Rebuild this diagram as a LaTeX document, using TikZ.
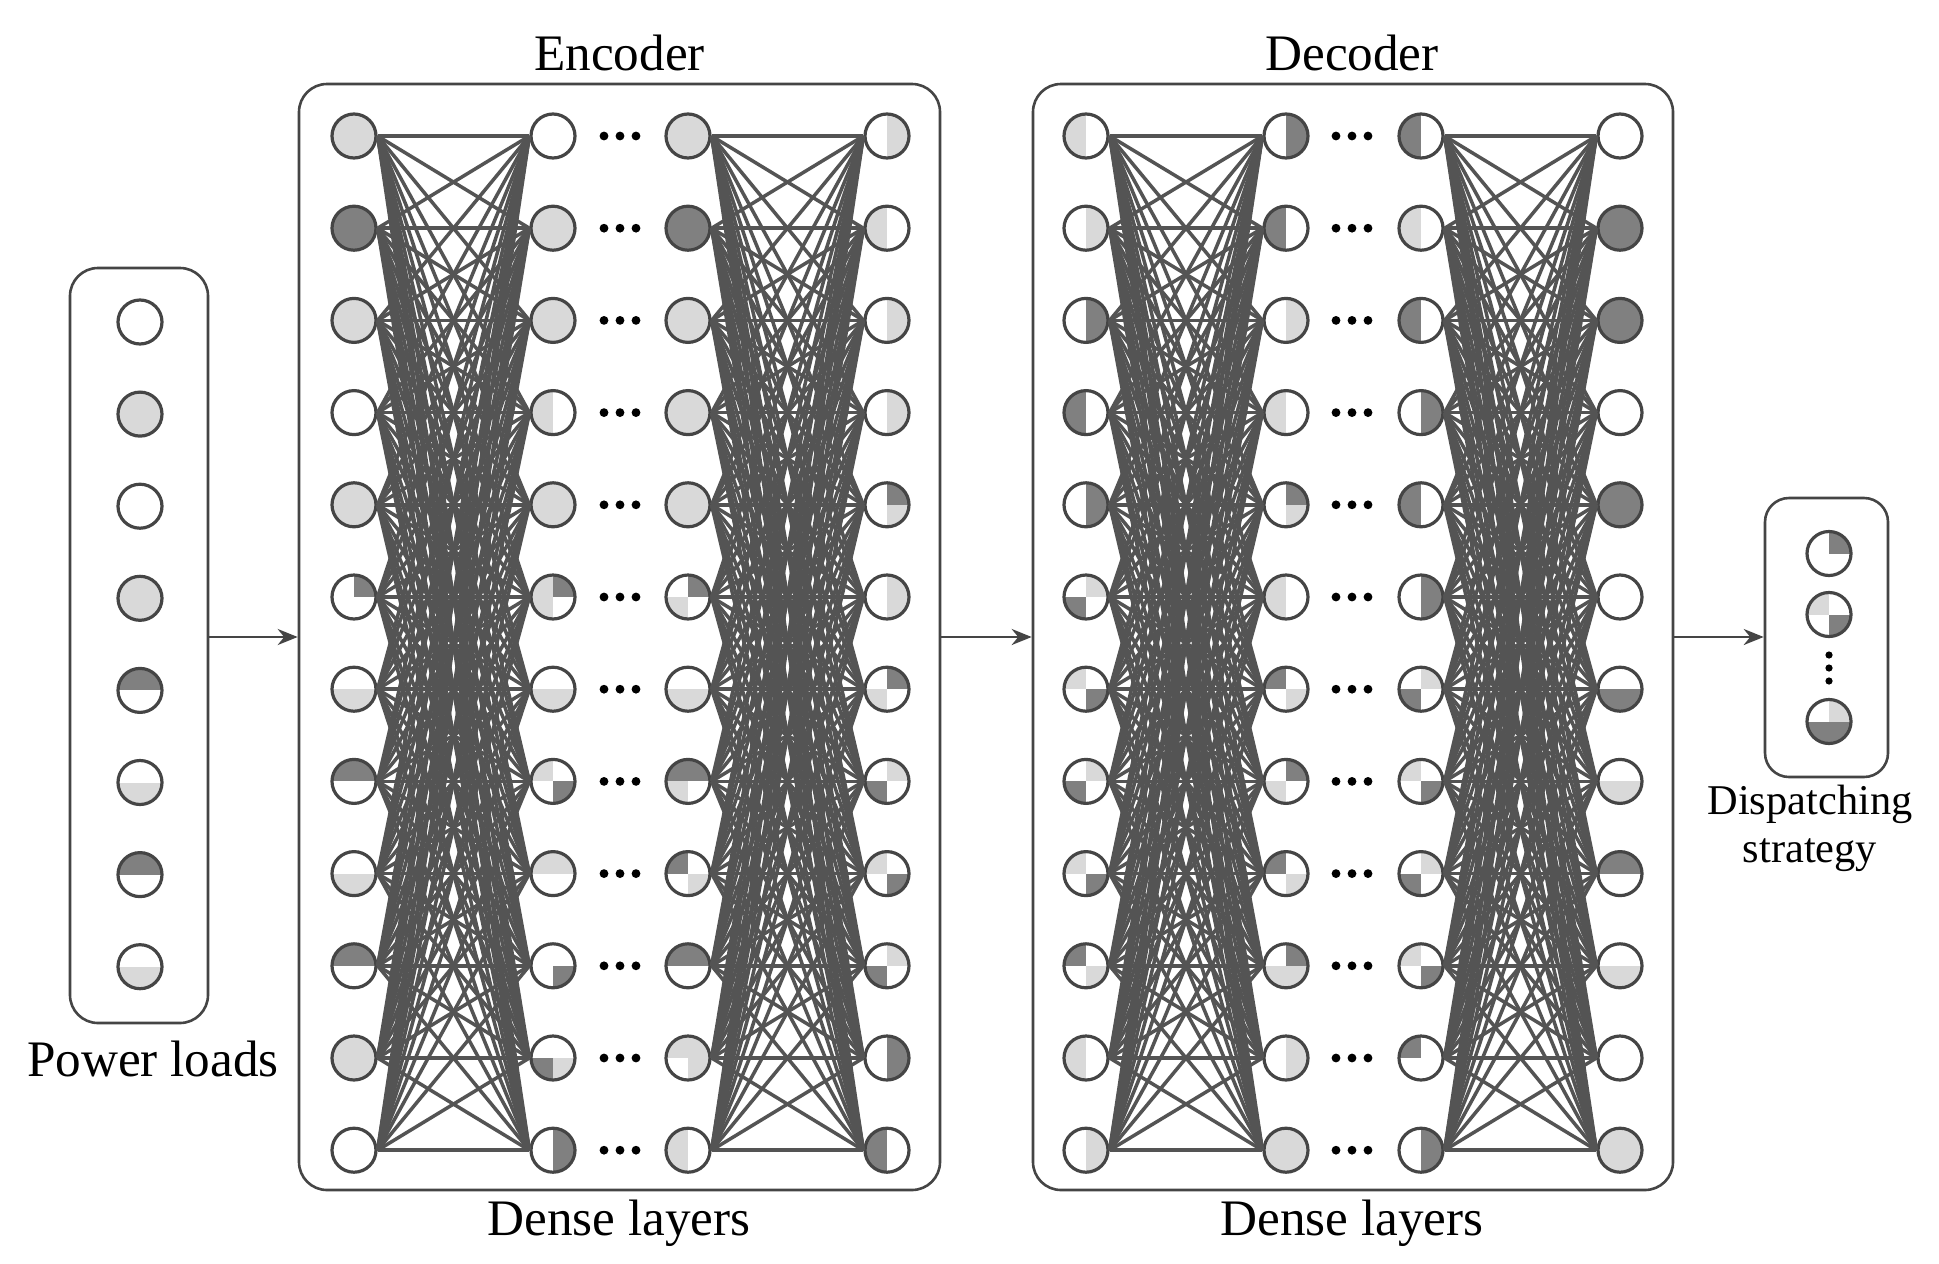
\documentclass[tikz,border=0pt]{standalone}
\usepackage{fontspec}
\setmainfont{Liberation Serif}
\usetikzlibrary{arrows.meta}

\definecolor{ringc}{gray}{0.27}
\definecolor{wirec}{gray}{0.33}
\colorlet{qw}{white}
\definecolor{ql}{gray}{0.85}
\definecolor{qd}{gray}{0.5}

\tikzset{
  every picture/.append style={x=0.5pt, y=-0.5pt},
  neuron/.style n args={4}{circle, draw=ringc, line width=1.6pt, minimum size=22pt, inner sep=0pt,
    path picture={
      \fill[fill=q#1] (path picture bounding box.center) rectangle (path picture bounding box.north west);
      \fill[fill=q#2] (path picture bounding box.center) rectangle (path picture bounding box.north east);
      \fill[fill=q#3] (path picture bounding box.center) rectangle (path picture bounding box.south west);
      \fill[fill=q#4] (path picture bounding box.center) rectangle (path picture bounding box.south east);
    }},
  wire/.style={draw=wirec, line width=1.75pt},
  box/.style={draw=ringc, line width=1.3pt, rounded corners=14pt, inner sep=0pt},
  flow/.style={draw=ringc, line width=1.3pt, -{Stealth[length=10pt,width=8pt]}},
  lbl/.style={font=\rmfamily\fontsize{25.6pt}{30pt}\selectfont, inner sep=0pt},
  lblsmall/.style={font=\rmfamily\fontsize{21.2pt}{24pt}\selectfont, inner sep=0pt, align=center},
}

\begin{document}
\begin{tikzpicture}
  \useasboundingbox (0,0) rectangle (1939,1264);

  % frames
  \node[box, minimum width=69pt, minimum height=377.5pt] (pw) at (139,645.5) {};
  \node[box, minimum width=320.5pt, minimum height=553pt] (enc) at (619.5,637) {};
  \node[box, minimum width=320pt, minimum height=553pt] (dec) at (1353,637) {};
  \node[box, rounded corners=12pt, minimum width=61.5pt, minimum height=139.5pt] (out) at (1826.5,637.5) {};

  % power loads
  \foreach \r/\a/\b/\c/\d in {1/w/w/w/w, 2/l/l/l/l, 3/w/w/w/w, 4/l/l/l/l,
                              5/d/d/w/w, 6/w/w/l/l, 7/d/d/w/w, 8/w/w/l/l}
    \node[neuron={\a}{\b}{\c}{\d}] (in-\r) at (140,{322+(\r-1)*92.1}) {};

  % encoder
  \foreach \r/\a/\b/\c/\d in {1/l/l/l/l, 2/d/d/d/d, 3/l/l/l/l, 4/w/w/w/w, 5/l/l/l/l, 6/w/d/w/w,
                              7/w/w/l/l, 8/d/d/w/w, 9/w/w/l/l, 10/d/d/w/w, 11/l/l/l/l, 12/w/w/w/w}
    \node[neuron={\a}{\b}{\c}{\d}] (e1-\r) at (354,{136+(\r-1)*92.2}) {};
  \foreach \r/\a/\b/\c/\d in {1/w/w/w/w, 2/l/l/l/l, 3/l/l/l/l, 4/l/w/l/w, 5/l/l/l/l, 6/l/d/l/w,
                              7/w/w/l/l, 8/l/w/w/d, 9/l/l/w/w, 10/w/w/w/d, 11/w/w/d/l, 12/w/d/w/d}
    \node[neuron={\a}{\b}{\c}{\d}] (e2-\r) at (553,{136+(\r-1)*92.2}) {};
  \foreach \r/\a/\b/\c/\d in {1/l/l/l/l, 2/d/d/d/d, 3/l/l/l/l, 4/l/l/l/l, 5/l/l/l/l, 6/w/d/l/w,
                              7/w/w/l/l, 8/d/d/l/w, 9/d/w/w/l, 10/d/d/w/w, 11/l/l/w/l, 12/l/w/l/w}
    \node[neuron={\a}{\b}{\c}{\d}] (e3-\r) at (688,{136+(\r-1)*92.2}) {};
  \foreach \r/\a/\b/\c/\d in {1/w/l/w/l, 2/l/w/l/w, 3/w/l/w/l, 4/w/l/w/l, 5/w/d/w/l, 6/w/l/w/l,
                              7/w/d/l/w, 8/w/l/d/w, 9/l/w/w/d, 10/w/l/d/w, 11/w/d/w/d, 12/d/w/d/w}
    \node[neuron={\a}{\b}{\c}{\d}] (e4-\r) at (887,{136+(\r-1)*92.2}) {};

  % decoder
  \foreach \r/\a/\b/\c/\d in {1/l/w/l/w, 2/w/l/w/l, 3/w/d/w/d, 4/d/w/d/w, 5/w/d/w/d, 6/w/l/d/w,
                              7/l/w/w/d, 8/w/l/d/w, 9/l/w/w/d, 10/d/w/w/l, 11/l/w/l/w, 12/w/l/w/l}
    \node[neuron={\a}{\b}{\c}{\d}] (d1-\r) at (1086,{136+(\r-1)*92.2}) {};
  \foreach \r/\a/\b/\c/\d in {1/w/d/w/d, 2/d/w/d/w, 3/w/l/w/l, 4/l/w/l/w, 5/w/d/w/l, 6/l/w/l/w,
                              7/d/w/w/l, 8/w/d/l/w, 9/d/w/w/l, 10/w/d/l/l, 11/w/l/w/l, 12/l/l/l/l}
    \node[neuron={\a}{\b}{\c}{\d}] (d2-\r) at (1286,{136+(\r-1)*92.2}) {};
  \foreach \r/\a/\b/\c/\d in {1/d/w/d/w, 2/l/w/l/w, 3/d/w/d/w, 4/w/d/w/d, 5/d/w/d/w, 6/w/d/w/d,
                              7/w/l/d/w, 8/l/w/w/d, 9/w/l/d/w, 10/l/w/w/d, 11/d/w/w/w, 12/w/d/w/d}
    \node[neuron={\a}{\b}{\c}{\d}] (d3-\r) at (1421,{136+(\r-1)*92.2}) {};
  \foreach \r/\a/\b/\c/\d in {1/w/w/w/w, 2/d/d/d/d, 3/d/d/d/d, 4/w/w/w/w, 5/d/d/d/d, 6/w/w/w/w,
                              7/w/w/d/d, 8/w/w/l/l, 9/d/d/w/w, 10/w/w/l/l, 11/w/w/w/w, 12/l/l/l/l}
    \node[neuron={\a}{\b}{\c}{\d}] (d4-\r) at (1620,{136+(\r-1)*92.2}) {};

  % dispatching strategy
  \node[neuron={w}{d}{w}{w}] (o-1) at (1829,553.5) {};
  \node[neuron={l}{w}{w}{d}] (o-2) at (1829,614.5) {};
  \node[neuron={w}{l}{d}{d}] (o-3) at (1829,721.5) {};
  \foreach \y in {655,668,681}
    \fill (1829,\y) circle[radius=1.8pt];

  % dense connections
  \foreach \i in {1,...,12}
    \foreach \j in {1,...,12} {
      \draw[wire] (e1-\i.east) -- (e2-\j.west);
      \draw[wire] (e3-\i.east) -- (e4-\j.west);
      \draw[wire] (d1-\i.east) -- (d2-\j.west);
      \draw[wire] (d3-\i.east) -- (d4-\j.west);
    }

  % skipped layers
  \foreach \r in {1,...,12}
    \foreach \dx in {-16,0,16} {
      \fill ({620+\dx},{136+(\r-1)*92.2}) circle[radius=2.2pt];
      \fill ({1352+\dx},{136+(\r-1)*92.2}) circle[radius=2.2pt];
    }

  \draw[flow] (pw.east |- enc.west) -- (enc.west);
  \draw[flow] (enc.east) -- (dec.west);
  \draw[flow] (dec.east) -- (out.west |- dec.east);

  \node[lbl, anchor=base] (enclbl) at (619.5,70) {Encoder};
  \node[lbl, anchor=base] (declbl) at (1352,70) {Decoder};
  \node[lbl, anchor=base] (encfoot) at (619,1235) {Dense layers};
  \node[lbl, anchor=base] (decfoot) at (1352,1235) {Dense layers};
  \node[lbl, anchor=base] (pwlbl) at (153,1076) {Power loads};
  \node[lblsmall, anchor=base] (outlbl) at (1810,862) {Dispatching\\strategy};
\end{tikzpicture}
\end{document}
